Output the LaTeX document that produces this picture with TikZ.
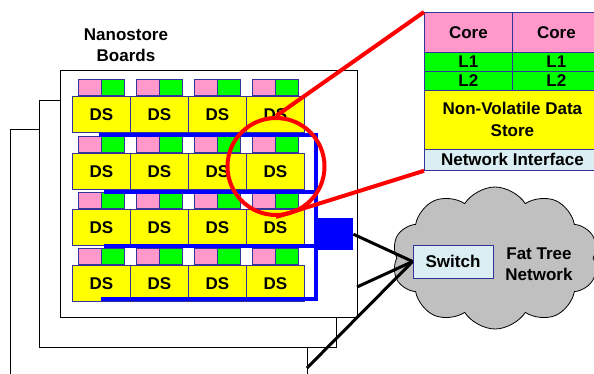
\documentclass[tikz,border=0pt]{standalone}
\usepackage{fontspec}
\setmainfont{Liberation Sans}
\usepackage{xcolor}
\usetikzlibrary{shapes.symbols}
\definecolor{corepink}{RGB}{255,153,204}
\definecolor{cachegreen}{RGB}{0,255,0}
\definecolor{storeyellow}{RGB}{255,255,0}
\definecolor{busblue}{RGB}{0,0,255}
\definecolor{nicblue}{RGB}{218,238,243}
\definecolor{edgenavy}{RGB}{51,51,153}
\definecolor{cloudgray}{RGB}{192,192,192}
\tikzset{basic/.style={draw=edgenavy,line width=0.8pt,inner sep=0pt,
                       text badly centered,font=\bfseries\fontsize{17}{21}\selectfont}}
\tikzset{board/.style={draw=black,fill=white,line width=0.8pt,inner sep=0pt,anchor=north west}}

\begin{document}
\begin{tikzpicture}[x=1pt,y=-1pt,
      % styles for clarity
      dsbox/.style    ={basic, fill=storeyellow, minimum width=58pt, minimum height=36pt, anchor=north west},
      corecell/.style ={basic, fill=corepink, minimum width=23pt, minimum height=16pt, anchor=south west},
      cachecell/.style={basic, fill=cachegreen, minimum width=23pt, minimum height=16pt, anchor=south west},
      detail/.style   ={basic, anchor=north west},
      link/.style     ={draw=black, line width=3pt},
      zoomline/.style ={draw=red, line width=4pt}
    ]
    \useasboundingbox (0,0) rectangle (594,374);

    % stacked boards, back to front
    \node[board, minimum width=297pt, minimum height=260pt] (board3) at (10,129) {};
    \node[board, minimum width=297pt, minimum height=247pt] (board2) at (39,100) {};
    \node[board, minimum width=297pt, minimum height=247pt] (board1) at (60,70) {};
    \node[font=\bfseries\fontsize{17}{21}\selectfont, align=center] (title) at (126,45) {Nanostore\\Boards};

    \foreach \r [count=\i from 1] in {96,153,209,265}{
      \foreach \c [count=\j from 1] in {72,130,188,246}{
        % data store with its two cores on top
        \node[dsbox]     (ds\i\j) at (\c,\r)    {DS};
        \node[corecell]  (pk\i\j) at (\c+6,\r)  {};
        \node[cachecell] (gr\i\j) at (\c+29,\r) {};
      }
    }

    % board bus
    \draw[busblue, line width=4.5pt]
      (99,135) -- (316,135) (104,192) -- (316,192)
      (104,246) -- (316,246) (101,299) -- (316,299)
      (316,133) -- (316,301);
    \node[fill=busblue, inner sep=0pt, minimum width=38pt, minimum height=32pt, anchor=north west] (hub) at (315,218) {};

    % network
    \node[cloud, cloud puffs=10, cloud puff arc=115, aspect=1.5, draw=black, fill=cloudgray, line width=0.8pt,
          minimum width=206pt, minimum height=142pt] (fattree) at (495,258) {};
    \node[basic, fill=nicblue, minimum width=80pt, minimum height=33pt] (switch) at (453,261.5) {Switch};
    \node[font=\bfseries\fontsize{17}{21}\selectfont, align=center] (fatlabel) at (539,264) {Fat Tree\\Network};

    \coordinate (tap1) at (357,287);
    \coordinate (tap3) at (307,368);
    \draw[link] (hub.east) -- (switch.west);
    \draw[link] (tap1) -- (switch.west);
    \draw[link] (tap3) -- (switch.west);

    % zoomed nanostore
    \node[detail, fill=corepink, minimum width=88pt, minimum height=40pt] (core1) at (424,12) {Core};
    \node[detail, fill=corepink, minimum width=88pt, minimum height=40pt] (core2) at (512,12) {Core};
    \node[detail, fill=cachegreen, minimum width=88pt, minimum height=19pt] (l1a) at (424,52) {L1};
    \node[detail, fill=cachegreen, minimum width=88pt, minimum height=19pt] (l1b) at (512,52) {L1};
    \node[detail, fill=cachegreen, minimum width=88pt, minimum height=19pt] (l2a) at (424,71) {L2};
    \node[detail, fill=cachegreen, minimum width=88pt, minimum height=19pt] (l2b) at (512,71) {L2};
    \node[detail, fill=storeyellow, minimum width=176pt, minimum height=59pt, align=center,
          font=\bfseries\fontsize{17}{22}\selectfont] (nvds) at (424,90) {Non-Volatile Data\\Store};
    \node[detail, fill=nicblue, minimum width=176pt, minimum height=21pt] (netif) at (424,149) {Network Interface};

    \node[draw=red, line width=4pt, circle, minimum size=97pt, inner sep=0pt] (zoomring) at (276,166.5) {};
    \draw[zoomline] (zoomring.north) -- (core1.north west);
    \draw[zoomline] (zoomring.south) -- (netif.south west);
  \end{tikzpicture}
\end{document}
